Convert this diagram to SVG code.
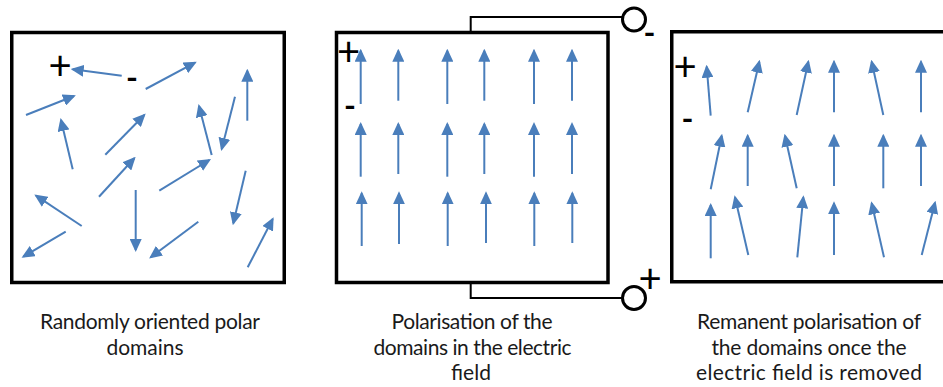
<svg xmlns="http://www.w3.org/2000/svg" width="943" height="387" viewBox="0 0 943 387">
<style>
.box{fill:#fff;stroke:#000;stroke-width:3.5}
.dom{stroke:#4A7EBB;stroke-width:2;fill:none;marker-end:url(#ah)}
.wire{stroke:#000;stroke-width:2;fill:none}
.term{fill:#fff;stroke:#000;stroke-width:3}
.plus{font-family:Lato,"Liberation Sans",sans-serif;font-size:40px;fill:#000;text-anchor:middle}
.minus{font-family:Lato,"Liberation Sans",sans-serif;font-size:32px;font-weight:bold;fill:#000;text-anchor:middle}
.cap{font-family:Lato,"Liberation Sans",sans-serif;font-size:21px;fill:#1a1a1a;text-anchor:middle}
</style>
<defs>
<marker id="ah" markerUnits="userSpaceOnUse" viewBox="0 0 13 12" markerWidth="13" markerHeight="12" refX="11" refY="6" orient="auto">
<path d="M0,0 L13,6 L0,12 z" fill="#4A7EBB"/>
</marker>
</defs>
<rect width="943" height="387" fill="#fff"/>

<g id="connectors">
<path class="wire" d="M470.7,32 V17 H622"/>
<path class="wire" d="M470.7,283 V298 H622"/>
</g>

<g id="panel-random">
<rect class="box" x="11.75" y="32.5" width="272.5" height="250"/>
<line class="dom" x1="121.7" y1="75.7" x2="72.7" y2="69.3"/>
<line class="dom" x1="145.7" y1="89" x2="195" y2="62.7"/>
<line class="dom" x1="26" y1="115" x2="74" y2="96"/>
<line class="dom" x1="247.3" y1="120.7" x2="247.3" y2="70.7"/>
<line class="dom" x1="235" y1="96.7" x2="221.7" y2="149"/>
<line class="dom" x1="72.7" y1="169.3" x2="61" y2="120"/>
<line class="dom" x1="105.3" y1="154.7" x2="144.3" y2="115"/>
<line class="dom" x1="211.7" y1="155" x2="199" y2="106"/>
<line class="dom" x1="99" y1="196.7" x2="134.3" y2="158.3"/>
<line class="dom" x1="159.3" y1="190.7" x2="209.3" y2="160"/>
<line class="dom" x1="245.7" y1="170.7" x2="233.3" y2="223.3"/>
<line class="dom" x1="81.7" y1="226" x2="36" y2="195.7"/>
<line class="dom" x1="135.7" y1="190" x2="135.7" y2="250"/>
<line class="dom" x1="65.7" y1="231.7" x2="23.3" y2="256.7"/>
<line class="dom" x1="198.3" y1="221.7" x2="150.7" y2="257.3"/>
<line class="dom" x1="247.7" y1="267.3" x2="272.7" y2="219"/>
<text class="plus" x="60" y="79.5">+</text>
<text class="minus" x="132" y="88.5">-</text>
<text class="cap" x="150" y="329" textLength="220">Randomly oriented polar</text>
<text class="cap" x="145" y="355">domains</text>
</g>

<g id="panel-field">
<rect class="box" x="336.5" y="32.5" width="271.5" height="250"/>
<line class="dom" x1="360.7" y1="104" x2="360.7" y2="50.7"/>
<line class="dom" x1="398.3" y1="100.7" x2="398.3" y2="50.7"/>
<line class="dom" x1="447.3" y1="104" x2="447.3" y2="50.7"/>
<line class="dom" x1="484.3" y1="100.7" x2="484.3" y2="50.7"/>
<line class="dom" x1="534" y1="104" x2="534" y2="50.7"/>
<line class="dom" x1="572" y1="100.7" x2="572" y2="50.7"/>
<line class="dom" x1="360.7" y1="176.7" x2="360.7" y2="124"/>
<line class="dom" x1="398.3" y1="174" x2="398.3" y2="124"/>
<line class="dom" x1="447.3" y1="176.7" x2="447.3" y2="124"/>
<line class="dom" x1="484.3" y1="174" x2="484.3" y2="124"/>
<line class="dom" x1="534" y1="176.7" x2="534" y2="124"/>
<line class="dom" x1="572" y1="174" x2="572" y2="124"/>
<line class="dom" x1="361.7" y1="246" x2="361.7" y2="193.3"/>
<line class="dom" x1="399" y1="244" x2="399" y2="193.3"/>
<line class="dom" x1="447.7" y1="246" x2="447.7" y2="193.3"/>
<line class="dom" x1="486" y1="243" x2="486" y2="193.3"/>
<line class="dom" x1="534.3" y1="246" x2="534.3" y2="193.3"/>
<line class="dom" x1="572.3" y1="243" x2="572.3" y2="193.3"/>
<text class="plus" x="348.5" y="65.5">+</text>
<text class="minus" x="350" y="116.5">-</text>
<text class="cap" x="472" y="329" textLength="161">Polarisation of the</text>
<text class="cap" x="472.5" y="355" textLength="198">domains in the electric</text>
<text class="cap" x="471" y="380">field</text>
</g>

<g id="terminal-neg">
<circle class="term" cx="634" cy="19.5" r="11.5"/>
<text class="minus" x="649.5" y="44">-</text>
</g>

<g id="terminal-pos">
<circle class="term" cx="634" cy="298" r="11.5"/>
<text class="plus" x="650" y="293">+</text>
</g>

<g id="panel-remanent">
<rect class="box" x="671.75" y="31.75" width="300" height="250"/>
<line class="dom" x1="710.7" y1="115.7" x2="706.7" y2="66.7"/>
<line class="dom" x1="747.7" y1="112.3" x2="759.3" y2="61.7"/>
<line class="dom" x1="796.7" y1="115" x2="808.3" y2="61.7"/>
<line class="dom" x1="834" y1="112.3" x2="834" y2="61.7"/>
<line class="dom" x1="883.3" y1="115" x2="871.7" y2="61.7"/>
<line class="dom" x1="921" y1="112.3" x2="921" y2="61.7"/>
<line class="dom" x1="710.7" y1="189.3" x2="721.7" y2="135.7"/>
<line class="dom" x1="747.7" y1="186" x2="747.7" y2="135.7"/>
<line class="dom" x1="796.7" y1="188.3" x2="785" y2="135.7"/>
<line class="dom" x1="834" y1="186" x2="834" y2="135.7"/>
<line class="dom" x1="883.3" y1="188.3" x2="883.3" y2="135.7"/>
<line class="dom" x1="921" y1="186" x2="921" y2="135.7"/>
<line class="dom" x1="710.7" y1="258.3" x2="710.7" y2="205"/>
<line class="dom" x1="748.3" y1="255" x2="735" y2="197.3"/>
<line class="dom" x1="797.3" y1="257.3" x2="803.3" y2="197.3"/>
<line class="dom" x1="834" y1="255" x2="834" y2="203.3"/>
<line class="dom" x1="884" y1="257.3" x2="871.7" y2="203.3"/>
<line class="dom" x1="921.7" y1="255" x2="935" y2="202.7"/>
<text class="plus" x="685" y="80.5">+</text>
<text class="minus" x="687.5" y="129.5">-</text>
<text class="cap" x="809" y="329" textLength="224">Remanent polarisation of</text>
<text class="cap" x="809" y="355" textLength="195">the domains once the</text>
<text class="cap" x="809" y="380" textLength="226">electric field is removed</text>
</g>
</svg>
